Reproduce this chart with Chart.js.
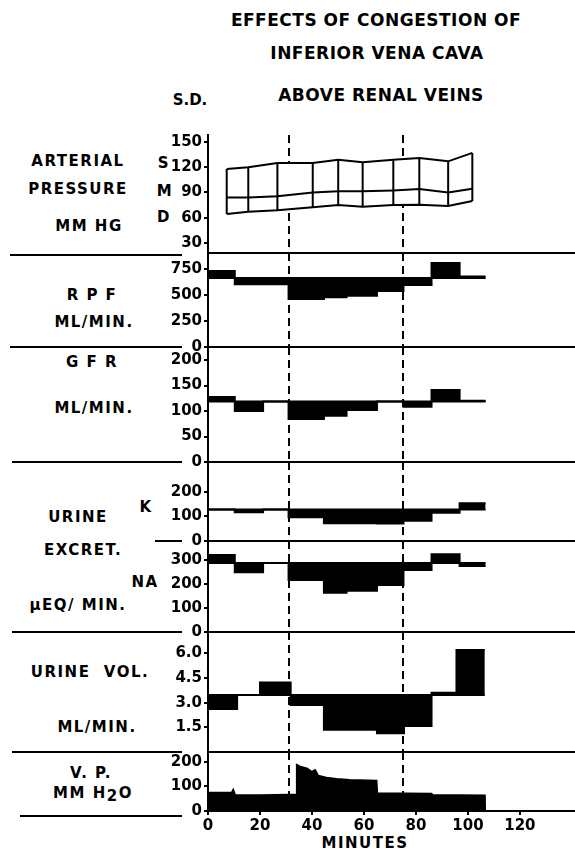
<!DOCTYPE html>
<html>
<head>
<meta charset="utf-8">
<title>Effects of congestion of inferior vena cava</title>
<script src="https://cdn.jsdelivr.net/npm/chart.js@4.4.1/dist/chart.umd.min.js"></script>
<style>
  html, body { margin: 0; padding: 0; background: #fff; }
  #page { position: relative; width: 575px; height: 853px; overflow: hidden;
          font-family: "DejaVu Sans", sans-serif; font-weight: bold; color: #000; }
  #page canvas { position: absolute; left: 0; }
  .t { position: absolute; transform: translate(-50%, -50%); white-space: nowrap;
       font-size: 15px; letter-spacing: 1.5px; line-height: 1; }
  .big { font-size: 17px; letter-spacing: 0.5px; }
</style>
</head>
<body>
<div id="page">
  <div class="t big" style="left:376px;top:20px">EFFECTS OF CONGESTION OF</div>
  <div class="t big" style="left:377px;top:53px">INFERIOR VENA CAVA</div>
  <div class="t big" style="left:381px;top:95px">ABOVE RENAL VEINS</div>
  <div class="t" style="left:190px;top:100px;letter-spacing:0">S.D.</div>

  <div class="t" style="left:78px;top:161px">ARTERIAL</div>
  <div class="t" style="left:78px;top:189px">PRESSURE</div>
  <div class="t" style="left:89px;top:226px">MM HG</div>
  <div class="t" style="left:164px;top:163px">S</div>
  <div class="t" style="left:165px;top:191px">M</div>
  <div class="t" style="left:164px;top:217px">D</div>

  <div class="t" style="left:92px;top:295px">R P F</div>
  <div class="t" style="left:94px;top:322px">ML/MIN.</div>

  <div class="t" style="left:92px;top:362px">G F R</div>
  <div class="t" style="left:94px;top:408px">ML/MIN.</div>

  <div class="t" style="left:78px;top:517px">URINE</div>
  <div class="t" style="left:146px;top:507px">K</div>
  <div class="t" style="left:83px;top:550px">EXCRET.</div>
  <div class="t" style="left:145px;top:582px">NA</div>
  <div class="t" style="left:78px;top:605px">µEQ/ MIN.</div>

  <div class="t" style="left:90px;top:672px">URINE&nbsp;&nbsp;VOL.</div>
  <div class="t" style="left:97px;top:727px">ML/MIN.</div>

  <div class="t" style="left:91px;top:773px">V. P.</div>
  <div class="t" style="left:93px;top:793px">MM H<span style="position:relative;top:3px">2</span>O</div>

  <div class="t" style="left:365px;top:843px">MINUTES</div>
</div>

<script>
// minutes on the shared x axis
var xTicks = [0, 20, 40, 60, 80, 100, 120];
var xMax = 141.2;
var clampTimes = [31, 75];   // dashed lines: cava clamped / released

// arterial pressure, mm Hg
var bpTime = [7.2, 15.5, 26.7, 40.3, 50.1, 59.5, 71.3, 81.3, 92.4, 101.7];
var bpSys  = [118, 120, 125, 125, 129, 126, 129, 131, 127, 137];
var bpMean = [84, 84, 85.5, 90, 91.5, 91.5, 92.5, 94, 90, 94.5];
var bpDia  = [64.5, 67, 69, 72.5, 75, 73, 75, 75.5, 74, 80];
var bpTicks = [30, 60, 90, 120, 150];

// clearance periods (minutes) for RPF, GFR, K, NA
var periodEdges = [0, 10.3, 21.2, 31, 44.6, 53.3, 65, 75.2, 86, 96.8, 106.8];

var rpfValues = [731, 603, 603, 462, 478, 492, 538, 596, 808, 678];
var rpfControl = 663;
var rpfTicks = [0, 250, 500, 750];

var gfrValues = [127.4, 100, 118.6, 84.3, 90.7, 102, 118.6, 108.4, 141, 120];
var gfrControl = 118.6;
var gfrTicks = [0, 50, 100, 150, 200];

var kValues = [128.6, 117, 128.6, 96.7, 72, 72, 71, 83, 115.5, 154];
var kControl = 128.6;
var kTicks = [0, 100, 200];

var naValues = [321, 249, 287.5, 217, 164, 172, 196, 258, 324, 275];
var naControl = 287.5;
var naTicks = [0, 100, 200, 300];

// urine volume, ml/min
var volEdges = [0, 11.2, 20, 31.8, 44.6, 65, 75.4, 86, 95.6, 106.5];
var volValues = [2.62, 3.47, 4.22, 2.86, 1.36, 1.14, 1.58, 3.6, 6.2];
var volControl = 3.47;
var volTicks = [1.5, 3.0, 4.5, 6.0];

// venous pressure, mm H2O
var vpMinutes = [0, 9.2, 9.7, 10.4, 20, 31, 33.9, 34.2, 35.4, 38, 39.9, 41.2, 42.4, 45.6, 49.5, 54.6, 64.8, 65.1, 86, 86.3, 106.5, 106.6];
var vpValues  = [74, 76, 86, 65, 64, 66, 66, 188, 181, 174, 160, 167, 144, 136, 131, 127, 124, 72, 70, 65, 63, 0];
var vpTicks = [0, 100, 200];

var tickFont = {family: 'DejaVu Sans', size: 15, weight: 'bold'};

function steps(edges, vals) {
  var pts = [];
  for (var i = 0; i < vals.length; i++) {
    pts.push({x: edges[i], y: vals[i]});
    pts.push({x: edges[i + 1], y: vals[i]});
  }
  return pts;
}

function stepSets(edges, vals, control) {
  return [
    {data: [{x: 0, y: control}, {x: edges[edges.length - 1], y: control}],
     borderColor: '#000', borderWidth: 2, pointRadius: 0, fill: false},
    {data: steps(edges, vals), borderColor: '#000', borderWidth: 2, pointRadius: 0,
     fill: {value: control}, backgroundColor: '#000'}
  ];
}

var panelLines = {
  id: 'panelLines',
  beforeDraw: function(chart) {
    var a = chart.chartArea, x = chart.scales.x, ctx = chart.ctx;
    ctx.save();
    ctx.strokeStyle = '#000';
    ctx.lineWidth = 2;
    ctx.setLineDash([8, 5]);
    clampTimes.forEach(function(t) {
      var px = Math.round(x.getPixelForValue(t));
      ctx.beginPath();
      ctx.moveTo(px, a.top);
      ctx.lineTo(px, a.bottom);
      ctx.stroke();
    });
    ctx.restore();
  },
  afterDraw: function(chart, args, opts) {
    var a = chart.chartArea, ctx = chart.ctx;
    ctx.save();
    ctx.strokeStyle = '#000';
    ctx.lineWidth = 2;
    ctx.beginPath();
    ctx.moveTo(a.left, a.bottom);
    ctx.lineTo(a.right, a.bottom);
    ctx.moveTo(opts.left, a.bottom + opts.dy);
    ctx.lineTo(182, a.bottom + opts.dy);
    ctx.stroke();
    ctx.restore();
  }
};

function yAxis(min, max, ticks, fmt) {
  return {
    min: min, max: max,
    afterBuildTicks: function(s) { s.ticks = ticks.map(function(v) { return {value: v}; }); },
    afterFit: function(s) { s.width = 208; s.paddingTop = 0; s.paddingBottom = 0; },
    border: {display: true, color: '#000', width: 2},
    grid: {display: true, drawOnChartArea: false, drawTicks: true, tickLength: 4, color: '#000', lineWidth: 2},
    ticks: {color: '#000', padding: 2, font: tickFont,
            callback: fmt || function(v) { return String(v); }}
  };
}

function panel(top, bottom, yScale, datasets, sep, showX) {
  var pad = 14;
  var xh = showX ? 42 : 0;
  var cv = document.createElement('canvas');
  cv.width = 575;
  cv.height = bottom - top + pad + (showX ? xh : pad);
  cv.style.top = (top - pad) + 'px';
  document.getElementById('page').appendChild(cv);

  var x = {type: 'linear', min: 0, max: xMax, display: false};
  if (showX) {
    x = {
      type: 'linear', min: 0, max: xMax, position: 'bottom',
      afterBuildTicks: function(s) { s.ticks = xTicks.map(function(v) { return {value: v}; }); },
      afterFit: function(s) { s.height = xh; s.paddingLeft = 0; s.paddingRight = 0; },
      border: {display: true, color: '#000', width: 2},
      grid: {display: true, drawOnChartArea: false, tickLength: 4, color: '#000', lineWidth: 2},
      ticks: {color: '#000', padding: 2, maxRotation: 0, autoSkip: false, font: tickFont}
    };
  }

  return new Chart(cv, {
    type: 'line',
    data: {datasets: datasets},
    options: {
      responsive: false, animation: false, devicePixelRatio: 1, events: [],
      layout: {padding: {top: pad, bottom: showX ? 0 : pad, left: 0, right: 0}},
      elements: {line: {tension: 0}},
      scales: {x: x, y: yScale},
      plugins: {
        legend: {display: false}, tooltip: {enabled: false},
        filler: {drawTime: 'beforeDatasetsDraw'},
        panelLines: sep
      }
    },
    plugins: [panelLines]
  });
}

// arterial pressure boxes
var bpVerticals = [];
bpTime.forEach(function(t, i) {
  bpVerticals.push({x: t, y: bpSys[i]}, {x: t, y: bpDia[i]}, {x: t, y: null});
});
function bpLine(vals) {
  return bpTime.map(function(t, i) { return {x: t, y: vals[i]}; });
}
var line = {borderColor: '#000', borderWidth: 2, pointRadius: 0};
panel(135, 253, yAxis(18.1, 158.3, bpTicks), [
  Object.assign({data: bpLine(bpSys), fill: 2, backgroundColor: '#fff'}, line),
  Object.assign({data: bpLine(bpMean), fill: false}, line),
  Object.assign({data: bpLine(bpDia), fill: false}, line),
  Object.assign({data: bpVerticals, fill: false, spanGaps: false}, line)
], {left: 10, dy: 2});

panel(253, 347, yAxis(0, 903.8, rpfTicks), stepSets(periodEdges, rpfValues, rpfControl), {left: 10, dy: 0});
panel(347, 462, yAxis(0, 225.5, gfrTicks), stepSets(periodEdges, gfrValues, gfrControl), {left: 12, dy: 0});
panel(462, 541, yAxis(0, 322.4, kTicks), stepSets(periodEdges, kValues, kControl), {left: 155, dy: 0});
panel(541, 632, yAxis(0, 379.2, naTicks), stepSets(periodEdges, naValues, naControl), {left: 12, dy: 0});
panel(632, 752, yAxis(0, 7.295, volTicks, function(v) { return v.toFixed(1); }),
      stepSets(volEdges, volValues, volControl), {left: 12, dy: 0});

panel(752, 811, yAxis(0, 240.8, vpTicks), [
  Object.assign({data: vpMinutes.map(function(m, i) { return {x: m, y: vpValues[i]}; }),
                 fill: 'origin', backgroundColor: '#000'}, line)
], {left: 20, dy: 5}, true);
</script>
</body>
</html>
